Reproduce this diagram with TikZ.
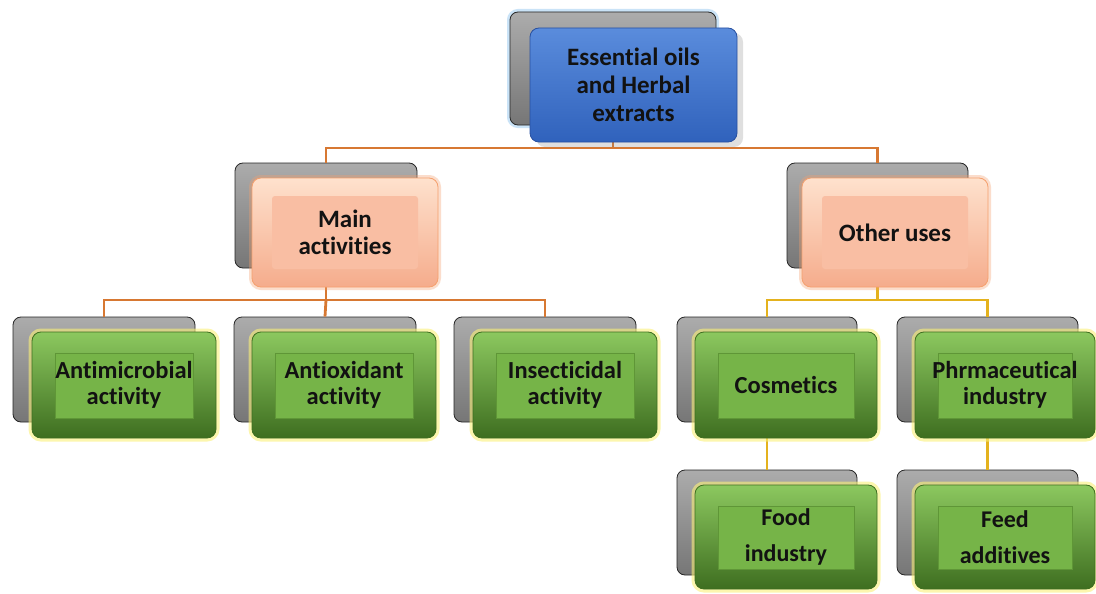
\documentclass[tikz,border=0pt]{standalone}
\usepackage{fontspec}
\setmainfont{Carlito}[Ligatures=NoCommon]
\usetikzlibrary{shadows,calc}
\definecolor{backtop}{RGB}{172,172,172}
\definecolor{backbot}{RGB}{118,118,118}
\definecolor{bluetop}{RGB}{90,140,220}
\definecolor{bluebot}{RGB}{48,98,188}
\definecolor{blueedge}{RGB}{40,80,160}
\definecolor{blueglow}{RGB}{150,200,240}
\definecolor{pinktop}{RGB}{254,225,205}
\definecolor{pinkbot}{RGB}{245,172,140}
\definecolor{pinkin}{RGB}{249,190,163}
\definecolor{pinkglow}{RGB}{245,160,110}
\definecolor{greentop}{RGB}{140,200,95}
\definecolor{greenbot}{RGB}{62,110,32}
\definecolor{greenin}{RGB}{118,180,72}
\definecolor{greenline}{RGB}{95,150,55}
\definecolor{yglow}{RGB}{250,240,120}
\definecolor{oline}{RGB}{215,120,50}
\definecolor{yline}{RGB}{228,178,30}
\definecolor{txt}{RGB}{18,18,18}
\begin{document}
\begin{tikzpicture}[x=1pt,y=-1pt,
  backbox/.style={rounded corners=8pt, draw=black!85, line width=0.8pt,
    top color=backtop, bottom color=backbot, inner sep=0pt},
  bluebox/.style={rounded corners=9pt, draw=blueedge, line width=0.8pt,
    top color=bluetop, bottom color=bluebot, inner sep=0pt, align=center,
    text=txt, font=\bfseries\fontsize{25}{28}\selectfont,
    drop shadow={shadow xshift=6pt, shadow yshift=-5pt, opacity=0.25}},
  pinkbox/.style={rounded corners=9pt, draw=pinkglow, line width=0.8pt,
    top color=pinktop, bottom color=pinkbot, inner sep=0pt, align=center,
    text=txt, font=\bfseries\fontsize{25}{27}\selectfont,
    preaction={draw=pinkglow, line width=6pt, opacity=0.35},
    path picture={\fill[pinkin, rounded corners=3pt]
      ($(path picture bounding box.north west)+(20,18)$) rectangle
      ($(path picture bounding box.south east)+(-20,-18)$);}},
  greenbox/.style={rounded corners=9pt, draw=greenbot, line width=0.8pt,
    top color=greentop, bottom color=greenbot, inner sep=0pt, align=center,
    text=txt, font=\bfseries\fontsize{24.5}{26}\selectfont,
    preaction={draw=yglow, line width=7pt, opacity=0.6},
    path picture={\filldraw[sharp corners, fill=greenin, draw=greenline, line width=0.8pt]
      ($(path picture bounding box.north west)+(23,21)$) rectangle
      ($(path picture bounding box.south east)+(-23,-20)$);}},
  olink/.style={draw=oline, line width=2.8pt},
  ylink/.style={draw=yline, line width=2.8pt},
]
\useasboundingbox[fill=white] (0,0) rectangle (1096,594);

% back boxes
\node[backbox, minimum width=206pt, minimum height=113pt,
  preaction={draw=blueglow, line width=6pt, opacity=0.5}] (topb) at (613,68.5) {};
\node[backbox, minimum width=182pt, minimum height=105pt] (mainb) at (326,215.5) {};
\node[backbox, minimum width=181pt, minimum height=105pt] (othb) at (877.5,215.5) {};
\node[backbox, minimum width=182pt, minimum height=105pt] (amb) at (104,369.5) {};
\node[backbox, minimum width=182pt, minimum height=105pt] (aob) at (325,369.5) {};
\node[backbox, minimum width=182pt, minimum height=105pt] (insb) at (545,369.5) {};
\node[backbox, minimum width=180pt, minimum height=105pt] (cosb) at (767,369.5) {};
\node[backbox, minimum width=181pt, minimum height=105pt] (phb) at (987.5,369.5) {};
\node[backbox, minimum width=180pt, minimum height=105pt] (foodb) at (767,522.5) {};
\node[backbox, minimum width=181pt, minimum height=105pt] (feedb) at (987.5,522.5) {};

% connectors
\coordinate (j0) at (613,148);
\coordinate (j1) at (326,300);
\coordinate (j2) at (877.5,300);
\draw[olink] (topb.south) -- (j0);
\draw[olink] (j0) -| (mainb.north);
\draw[olink] (j0) -| (othb.north);
\draw[olink] (mainb.south) -- (j1);
\draw[olink] (j1) -| (amb.north);
\draw[olink] (j1) -| (insb.north);
\draw[olink] (j1) -- (aob.north);
\draw[ylink] (othb.south) -- (j2);
\draw[ylink] (j2) -| (cosb.north);
\draw[ylink] (j2) -| (phb.north);
\draw[ylink] (cosb.south) -- (foodb.north);
\draw[ylink] (phb.south) -- (feedb.north);

% front boxes
\node[bluebox, minimum width=207pt, minimum height=114pt] (top) at (633.5,85)
  {Essential oils\\and Herbal\\extracts};
\node[pinkbox, minimum width=186pt, minimum height=109pt] (main) at (345,232.5)
  {Main\\activities};
\node[pinkbox, minimum width=186pt, minimum height=109pt] (oth) at (895,232.5)
  {Other uses};
\node[greenbox, minimum width=184pt, minimum height=106pt] (am) at (124,385)
  {Antimicrobial\\activity};
\node[greenbox, minimum width=184pt, minimum height=106pt] (ao) at (344,385)
  {Antioxidant\\activity};
\node[greenbox, minimum width=184pt, minimum height=106pt] (ins) at (565,385)
  {Insecticidal\\activity};
\node[greenbox, minimum width=182pt, minimum height=106pt] (cos) at (786,385)
  {Cosmetics};
\node[greenbox, minimum width=180pt, minimum height=106pt] (ph) at (1005,385)
  {Phrmaceutical\\industry};
\node[greenbox, minimum width=182pt, minimum height=104pt,
  font=\bfseries\fontsize{24}{36}\selectfont] (food) at (786,537)
  {Food\\industry};
\node[greenbox, minimum width=180pt, minimum height=104pt,
  font=\bfseries\fontsize{24}{36}\selectfont] (feed) at (1005,537)
  {Feed\\additives};
\end{tikzpicture}
\end{document}
